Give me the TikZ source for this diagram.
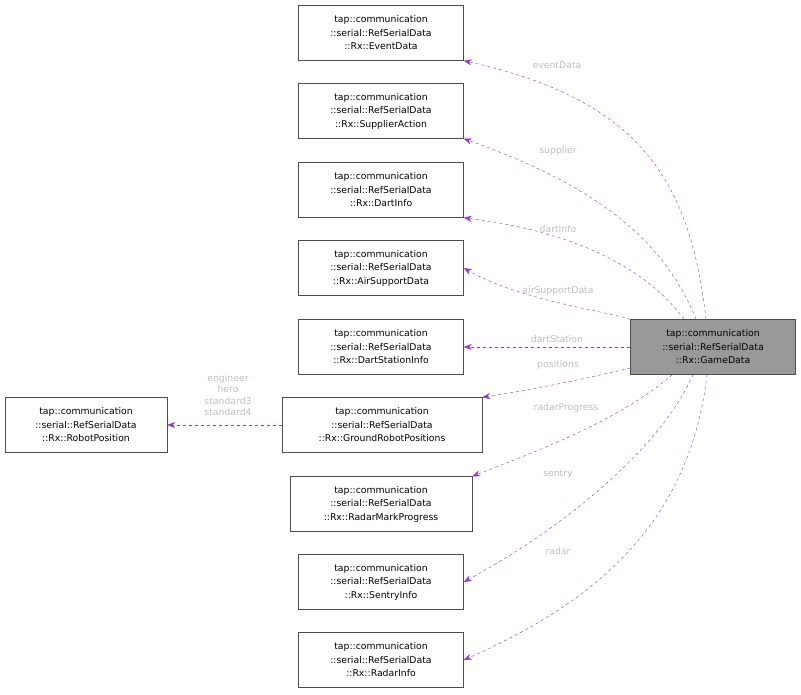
\documentclass[tikz,border=0pt]{standalone}
\usepackage{fontspec}
\setmainfont{DejaVu Sans}
\usetikzlibrary{arrows.meta}
\definecolor{edge}{HTML}{9A32CD}
\definecolor{lbl}{HTML}{BFBFBF}
\begin{document}
\begin{tikzpicture}[x=1pt,y=-1pt,
  box/.style={draw=black!70,fill=white,minimum height=55pt,align=center,font=\fontsize{9.3}{13.5}\selectfont,inner xsep=3pt},
  rel/.style={draw=edge,dashed,-{Stealth[length=8pt,width=6pt]}},
  lab/.style={text=lbl,font=\fontsize{9.3}{11}\selectfont,align=center}]
\useasboundingbox (0,0) rectangle (801,695);
\node[box,minimum width=165pt] (ev) at (381,33) {tap::communication\\::serial::RefSerialData\\::Rx::EventData};
\node[box,minimum width=165pt] (su) at (381,111) {tap::communication\\::serial::RefSerialData\\::Rx::SupplierAction};
\node[box,minimum width=165pt] (di) at (381,190) {tap::communication\\::serial::RefSerialData\\::Rx::DartInfo};
\node[box,minimum width=165pt] (as) at (381,268) {tap::communication\\::serial::RefSerialData\\::Rx::AirSupportData};
\node[box,minimum width=165pt] (ds) at (381,347) {tap::communication\\::serial::RefSerialData\\::Rx::DartStationInfo};
\node[box,minimum width=200pt] (gr) at (382,425) {tap::communication\\::serial::RefSerialData\\::Rx::GroundRobotPositions};
\node[box,minimum width=182pt] (rm) at (381,504) {tap::communication\\::serial::RefSerialData\\::Rx::RadarMarkProgress};
\node[box,minimum width=165pt] (se) at (381,582) {tap::communication\\::serial::RefSerialData\\::Rx::SentryInfo};
\node[box,minimum width=165pt] (ri) at (381,660) {tap::communication\\::serial::RefSerialData\\::Rx::RadarInfo};
\node[box,minimum width=162pt] (rp) at (86,425) {tap::communication\\::serial::RefSerialData\\::Rx::RobotPosition};
\node[box,minimum width=165pt,fill=black!40] (gd) at (713,347) {tap::communication\\::serial::RefSerialData\\::Rx::GameData};

\coordinate (g1) at (706,319);
\coordinate (g2) at (696,319);
\coordinate (g3) at (684,319);
\draw[rel] (g1) .. controls (690,180) and (640,100) .. (ev.south east);
\draw[rel] (g2) .. controls (660,230) and (580,180) .. (su.south east);
\draw[rel] (g3) .. controls (640,260) and (560,230) .. (di.south east);
\draw[rel] (gd.north west) .. controls (600,310) and (520,300) .. (as.east);
\draw[rel] (gd.west) -- (ds.east);
\draw[rel] (gd.west |- 0,368) .. controls (580,380) and (530,390) .. (gr.north east);
\draw[rel] (gd.south west) ++(42,0) .. controls (620,420) and (540,450) .. (rm.north east);
\draw[rel] (gd.south) ++(-20,0) .. controls (660,450) and (560,530) .. (se.east);
\draw[rel] (gd.south) ++(-6,0) .. controls (690,520) and (600,600) .. (ri.east);
\draw[rel] (gr.west) -- (rp.east);

\node[lab] at (557,65) {eventData};
\node[lab] at (558,151) {supplier};
\node[lab] at (558,229) {dartInfo};
\node[lab] at (558,291) {airSupportData};
\node[lab] at (557,339) {dartStation};
\node[lab] at (558,365) {positions};
\node[lab] at (566,408) {radarProgress};
\node[lab] at (558,474) {sentry};
\node[lab] at (558,551) {radar};
\node[lab,font=\fontsize{9.3}{11.5}\selectfont] at (228,395) {engineer\\hero\\standard3\\standard4};
\end{tikzpicture}
\end{document}
